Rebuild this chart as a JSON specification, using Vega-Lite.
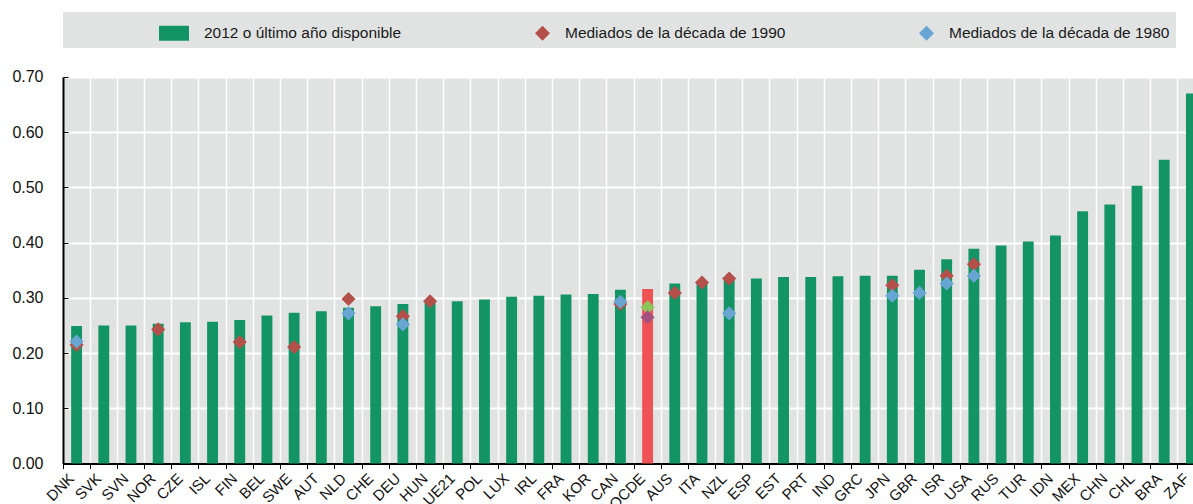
{
  "$schema": "https://vega.github.io/schema/vega-lite/v6.json",
  "autosize": {"type": "none"},
  "padding": {"left": 63, "top": 77, "right": 0, "bottom": 41},
  "width": 1142,
  "height": 386.6,
  "background": "white",
  "config": {
    "view": {"fill": "#e1e3e3", "stroke": null},
    "font": "Liberation Sans",
    "legend": {
      "orient": "top",
      "direction": "horizontal",
      "offset": 29,
      "fillColor": "#e1e3e3",
      "padding": 6,
      "symbolSize": 900,
      "symbolStrokeWidth": 0,
      "labelFont": "Liberation Sans",
      "labelFontSize": 15.5,
      "labelColor": "#1a1a1a",
      "labelOffset": 15,
      "labelLimit": 400,
      "columnPadding": 118,
      "titleFontSize": 1,
      "titleOrient": "left",
      "titlePadding": 90
    }
  },
  "data": {
    "values": [
      {"c": "DNK", "s": "2012 o último año disponible", "v": 0.249},
      {"c": "SVK", "s": "2012 o último año disponible", "v": 0.250},
      {"c": "SVN", "s": "2012 o último año disponible", "v": 0.250},
      {"c": "NOR", "s": "2012 o último año disponible", "v": 0.253},
      {"c": "CZE", "s": "2012 o último año disponible", "v": 0.256},
      {"c": "ISL", "s": "2012 o último año disponible", "v": 0.257},
      {"c": "FIN", "s": "2012 o último año disponible", "v": 0.260},
      {"c": "BEL", "s": "2012 o último año disponible", "v": 0.268},
      {"c": "SWE", "s": "2012 o último año disponible", "v": 0.273},
      {"c": "AUT", "s": "2012 o último año disponible", "v": 0.276},
      {"c": "NLD", "s": "2012 o último año disponible", "v": 0.282},
      {"c": "CHE", "s": "2012 o último año disponible", "v": 0.285},
      {"c": "DEU", "s": "2012 o último año disponible", "v": 0.289},
      {"c": "HUN", "s": "2012 o último año disponible", "v": 0.291},
      {"c": "UE21", "s": "2012 o último año disponible", "v": 0.294},
      {"c": "POL", "s": "2012 o último año disponible", "v": 0.297},
      {"c": "LUX", "s": "2012 o último año disponible", "v": 0.302},
      {"c": "IRL", "s": "2012 o último año disponible", "v": 0.304},
      {"c": "FRA", "s": "2012 o último año disponible", "v": 0.306},
      {"c": "KOR", "s": "2012 o último año disponible", "v": 0.307},
      {"c": "CAN", "s": "2012 o último año disponible", "v": 0.315},
      {"c": "OCDE", "s": "2012 o último año disponible", "v": 0.316},
      {"c": "AUS", "s": "2012 o último año disponible", "v": 0.326},
      {"c": "ITA", "s": "2012 o último año disponible", "v": 0.327},
      {"c": "NZL", "s": "2012 o último año disponible", "v": 0.333},
      {"c": "ESP", "s": "2012 o último año disponible", "v": 0.335},
      {"c": "EST", "s": "2012 o último año disponible", "v": 0.338},
      {"c": "PRT", "s": "2012 o último año disponible", "v": 0.338},
      {"c": "IND", "s": "2012 o último año disponible", "v": 0.339},
      {"c": "GRC", "s": "2012 o último año disponible", "v": 0.340},
      {"c": "JPN", "s": "2012 o último año disponible", "v": 0.340},
      {"c": "GBR", "s": "2012 o último año disponible", "v": 0.351},
      {"c": "ISR", "s": "2012 o último año disponible", "v": 0.370},
      {"c": "USA", "s": "2012 o último año disponible", "v": 0.389},
      {"c": "RUS", "s": "2012 o último año disponible", "v": 0.395},
      {"c": "TUR", "s": "2012 o último año disponible", "v": 0.402},
      {"c": "IDN", "s": "2012 o último año disponible", "v": 0.413},
      {"c": "MEX", "s": "2012 o último año disponible", "v": 0.457},
      {"c": "CHN", "s": "2012 o último año disponible", "v": 0.469},
      {"c": "CHL", "s": "2012 o último año disponible", "v": 0.503},
      {"c": "BRA", "s": "2012 o último año disponible", "v": 0.550},
      {"c": "ZAF", "s": "2012 o último año disponible", "v": 0.670},
      {"c": "DNK", "s": "Mediados de la década de 1990", "v": 0.215},
      {"c": "NOR", "s": "Mediados de la década de 1990", "v": 0.243},
      {"c": "FIN", "s": "Mediados de la década de 1990", "v": 0.220},
      {"c": "SWE", "s": "Mediados de la década de 1990", "v": 0.211},
      {"c": "NLD", "s": "Mediados de la década de 1990", "v": 0.298},
      {"c": "DEU", "s": "Mediados de la década de 1990", "v": 0.267},
      {"c": "HUN", "s": "Mediados de la década de 1990", "v": 0.294},
      {"c": "CAN", "s": "Mediados de la década de 1990", "v": 0.289},
      {"c": "OCDE", "s": "Mediados de la década de 1990", "v": 0.283},
      {"c": "AUS", "s": "Mediados de la década de 1990", "v": 0.309},
      {"c": "ITA", "s": "Mediados de la década de 1990", "v": 0.328},
      {"c": "NZL", "s": "Mediados de la década de 1990", "v": 0.335},
      {"c": "JPN", "s": "Mediados de la década de 1990", "v": 0.323},
      {"c": "ISR", "s": "Mediados de la década de 1990", "v": 0.340},
      {"c": "USA", "s": "Mediados de la década de 1990", "v": 0.361},
      {"c": "DNK", "s": "Mediados de la década de 1980", "v": 0.221},
      {"c": "NLD", "s": "Mediados de la década de 1980", "v": 0.272},
      {"c": "DEU", "s": "Mediados de la década de 1980", "v": 0.252},
      {"c": "CAN", "s": "Mediados de la década de 1980", "v": 0.293},
      {"c": "OCDE", "s": "Mediados de la década de 1980", "v": 0.265},
      {"c": "NZL", "s": "Mediados de la década de 1980", "v": 0.272},
      {"c": "JPN", "s": "Mediados de la década de 1980", "v": 0.304},
      {"c": "GBR", "s": "Mediados de la década de 1980", "v": 0.309},
      {"c": "ISR", "s": "Mediados de la década de 1980", "v": 0.326},
      {"c": "USA", "s": "Mediados de la década de 1980", "v": 0.340}
    ]
  },
  "encoding": {
    "x": {
      "field": "c",
      "type": "nominal",
      "sort": null,
      "scale": {"paddingInner": 0, "paddingOuter": 0},
      "axis": {
        "title": null,
        "bandPosition": 0,
        "labelOffset": -5,
        "labelAngle": -45,
        "labelAlign": "right",
        "labelBaseline": "middle",
        "labelFont": "Liberation Sans",
        "labelFontSize": 15,
        "labelColor": "#111111",
        "labelPadding": 7,
        "grid": true,
        "gridColor": "#ffffff",
        "gridWidth": 1.5,
        "tickColor": "#000000",
        "tickSize": 5,
        "domainColor": "#000000",
        "domainWidth": 2
      }
    },
    "y": {
      "field": "v",
      "type": "quantitative",
      "scale": {"domain": [0, 0.7], "nice": false},
      "axis": {
        "title": null,
        "values": [0, 0.1, 0.2, 0.3, 0.4, 0.5, 0.6, 0.7],
        "format": ".2f",
        "grid": true,
        "gridColor": "#ffffff",
        "gridWidth": 2,
        "tickColor": "#000000",
        "tickSize": -5,
        "labelPadding": 25,
        "labelFont": "Liberation Sans",
        "labelFontSize": 16,
        "labelColor": "#111111",
        "domainColor": "#000000",
        "domainWidth": 2
      }
    }
  },
  "layer": [
    {
      "transform": [{"filter": "datum.s === '2012 o último año disponible'"}],
      "mark": {"type": "bar", "width": {"band": 0.4}},
      "encoding": {
        "color": {
          "field": "s",
          "type": "nominal",
          "condition": {"test": "datum.c === 'OCDE'", "value": "#ef5254"},
          "scale": {
            "domain": ["2012 o último año disponible", "Mediados de la década de 1990", "Mediados de la década de 1980"],
            "range": ["#129464", "#b4504a", "#67a6d3"]
          },
          "legend": {
            "title": " ",
            "labelExpr": "datum.value === 'Mediados de la década de 1980' ? datum.label + '\u00a0\u00a0\u00a0\u00a0\u00a0\u00a0' : datum.label",
            "encode": {
              "symbols": {
                "update": {
                  "shape": {"signal": "datum.value === '2012 o último año disponible' ? 'M-1,-0.5H1V0.5H-1Z' : 'M0.5,-0.5L1,0L0.5,0.5L0,0Z'"}
                }
              }
            }
          }
        }
      }
    },
    {
      "transform": [{"filter": "datum.s !== '2012 o último año disponible'"}],
      "mark": {"type": "point", "shape": "diamond", "filled": true, "size": 200, "opacity": 1},
      "encoding": {
        "color": {
          "field": "s",
          "type": "nominal",
          "condition": [
            {"test": "datum.c === 'OCDE' && datum.s === 'Mediados de la década de 1990'", "value": "#8cc65a"},
            {"test": "datum.c === 'OCDE'", "value": "#a5507f"}
          ]
        }
      }
    }
  ]
}
